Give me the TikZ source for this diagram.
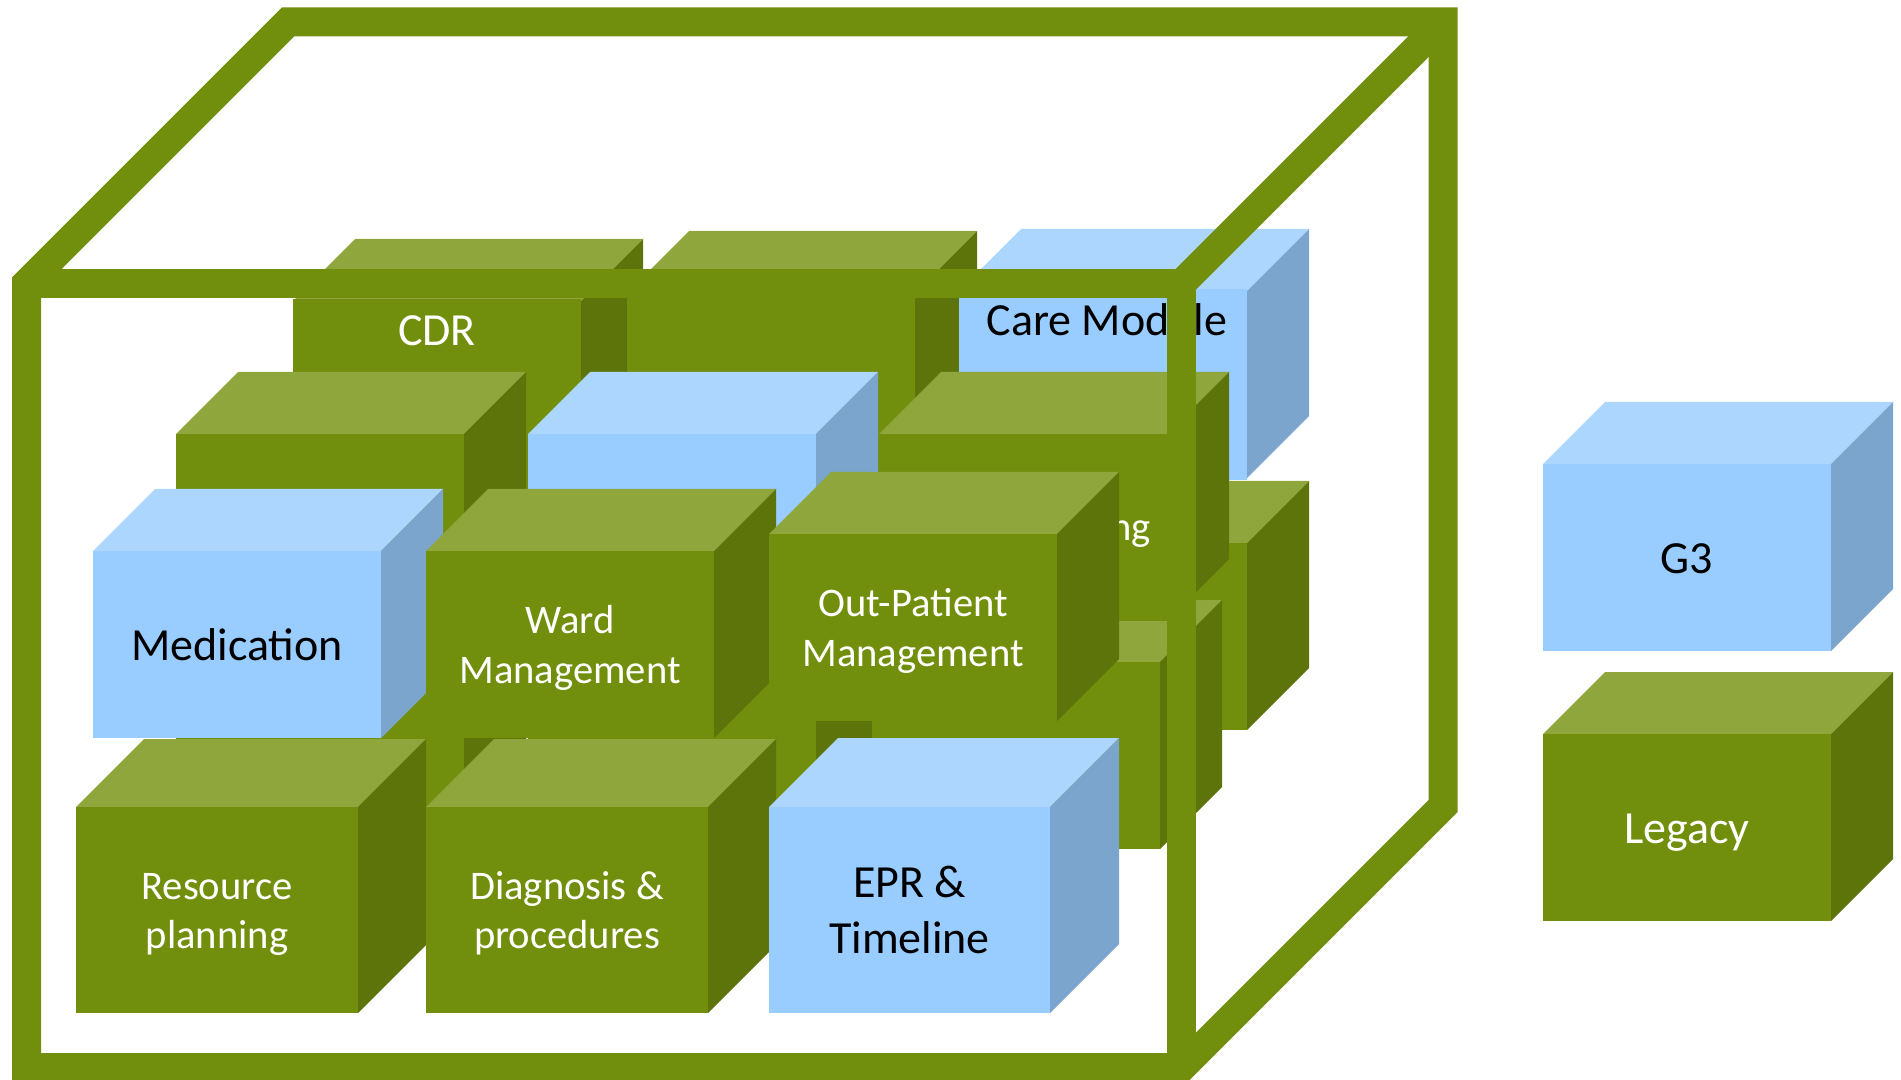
\documentclass[tikz,border=0pt]{standalone}
\usepackage{fontspec}
\setmainfont{Carlito}
\definecolor{grnfront}{HTML}{718F0D}
\definecolor{grntop}{HTML}{8FA63D}
\definecolor{grnside}{HTML}{5D740A}
\definecolor{blufront}{HTML}{99CCFF}
\definecolor{blutop}{HTML}{ADD6FF}
\definecolor{bluside}{HTML}{7BA5CD}
\newcommand{\cuboid}[9][]{%
  \fill[#8top] (#3,#4) -- ++(#7,-#7) -- ++(#5,0) -- ++(-#7,#7) -- cycle;
  \fill[#8side] (#3+#5,#4) -- ++(#7,-#7) -- ++(0,#6) -- ++(-#7,#7) -- cycle;
  \node[face, #8, minimum width=#5*0.5pt, minimum height=#6*0.5pt, #1] (#2) at (#3+#5/2,#4+#6/2)
    {\rule{0pt}{1em}#9\rule[-.32em]{0pt}{0pt}};}

\begin{document}
\begin{tikzpicture}[x=0.5pt, y=-0.5pt,
  face/.style={inner sep=0pt, outer sep=0pt, align=center, font=\fontsize{23}{28}\selectfont},
  small/.style={font=\fontsize{20.3}{24.8}\selectfont},
  toptext/.style={execute at end node={\rule[-3.15em]{0pt}{0pt}}},
  grn/.style={fill=grnfront, text=white},
  blu/.style={fill=blufront, text=black},
  cubeframe/.style={draw=grnfront, line width=14.5pt, line join=miter}]
\useasboundingbox (0,0) rectangle (1901,1080);
\cuboid{backlow}{959}{543}{288}{187}{62}{grn}{}
\cuboid[toptext]{cdr}{293}{301}{288}{187}{62}{grn}{CDR}
\cuboid{backmid}{627}{293}{288}{187}{62}{grn}{}
\cuboid[toptext]{caremod}{959}{291}{288}{187}{62}{blu}{\kern4pt Care Module}
\cuboid{lowleft}{176}{662}{288}{187}{62}{grn}{}
\cuboid{lowmid}{528}{662}{288}{187}{62}{grn}{}
\cuboid{lowright}{872}{662}{288}{187}{62}{grn}{}
\cuboid{midleft}{176}{434}{288}{187}{62}{grn}{}
\cuboid{midblue}{528}{434}{288}{187}{62}{blu}{}
\cuboid{midright}{879}{434}{288}{187}{62}{grn}{}
\node[face, small, text=white, anchor=base east] (ngtext) at (1151,540) {ng};
\cuboid{medic}{93}{551}{288}{187}{62}{blu}{Medication}
\cuboid[small]{ward}{426}{551}{288}{187}{62}{grn}{Ward\\Management}
\cuboid[small]{outpat}{769}{534}{288}{187}{62}{grn}{Out-Patient\\Management}
\cuboid[small]{resplan}{76}{807}{282}{206}{68}{grn}{Resource\\planning}
\cuboid[small]{diagproc}{426}{807}{282}{206}{68}{grn}{Diagnosis \&\\procedures}
\cuboid{epr}{769}{807}{281}{206}{69}{blu}{EPR \&\\Timeline}
\cuboid{gthree}{1543}{464}{288}{187}{62}{blu}{G3}
\cuboid{legacy}{1543}{734}{288}{187}{62}{grn}{Legacy}
\coordinate (ftl) at (26.5,283.5);
\coordinate (ftr) at (1181.5,283.5);
\coordinate (fbr) at (1181.5,1067.5);
\coordinate (fbl) at (26.5,1067.5);
\coordinate (btl) at (288,22);
\coordinate (btr) at (1443,22);
\coordinate (bbr) at (1443,806);
\draw[cubeframe] (fbr) -- (fbl) -- (ftl) -- (btl) -- (btr) -- (bbr) -- cycle;
\draw[cubeframe] (ftl) -- (ftr) -- (fbr);
\draw[cubeframe] (ftr) -- (btr);
\end{tikzpicture}
\end{document}
